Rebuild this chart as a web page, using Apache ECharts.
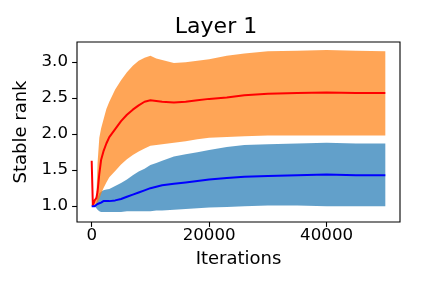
<!DOCTYPE html>
<html><head><meta charset="utf-8">
<script src="https://cdn.jsdelivr.net/npm/echarts@6/dist/echarts.min.js"></script>
<style>html,body{margin:0;padding:0;background:#fff}#c{width:432px;height:288px}</style>
</head><body><div id="c"></div>
<script>
const iterations = [0, 200, 500, 800, 1000, 1300, 1600, 2000, 2500, 3000, 4000, 5000, 6000, 7000, 8000, 9000, 10000, 11000, 12000, 14000, 16000, 18000, 20000, 23000, 26000, 30000, 35000, 40000, 45000, 50000];
const redMean = [1.63, 1.01, 1.08, 1.11, 1.20, 1.45, 1.64, 1.76, 1.87, 1.96, 2.07, 2.18, 2.27, 2.34, 2.40, 2.45, 2.47, 2.46, 2.45, 2.44, 2.45, 2.47, 2.49, 2.51, 2.54, 2.56, 2.57, 2.58, 2.57, 2.57];
const blueMean = [1.0, 1.0, 1.0, 1.01, 1.03, 1.04, 1.05, 1.07, 1.07, 1.07, 1.08, 1.10, 1.13, 1.16, 1.19, 1.22, 1.25, 1.27, 1.29, 1.31, 1.33, 1.35, 1.37, 1.39, 1.41, 1.42, 1.43, 1.44, 1.43, 1.43];
const orangeUpper = [1.02, 1.05, 1.10, 1.14, 1.60, 1.95, 2.08, 2.20, 2.35, 2.45, 2.62, 2.75, 2.86, 2.95, 3.02, 3.06, 3.09, 3.05, 3.03, 2.99, 3.00, 3.02, 3.04, 3.09, 3.12, 3.15, 3.16, 3.17, 3.16, 3.15];
const orangeLower = [1.0, 1.0, 1.02, 1.04, 1.05, 1.10, 1.17, 1.25, 1.33, 1.40, 1.49, 1.58, 1.65, 1.71, 1.76, 1.80, 1.84, 1.85, 1.86, 1.88, 1.90, 1.93, 1.95, 1.96, 1.97, 1.98, 1.98, 1.98, 1.98, 1.98];
const blueUpper = [1.0, 1.0, 1.0, 1.05, 1.12, 1.18, 1.20, 1.22, 1.23, 1.24, 1.28, 1.32, 1.37, 1.43, 1.48, 1.52, 1.57, 1.60, 1.63, 1.69, 1.72, 1.75, 1.78, 1.82, 1.85, 1.86, 1.87, 1.88, 1.87, 1.87];
const blueLower = [1.0, 1.0, 1.0, 0.97, 0.95, 0.93, 0.92, 0.92, 0.92, 0.92, 0.92, 0.92, 0.93, 0.93, 0.93, 0.93, 0.93, 0.94, 0.94, 0.95, 0.96, 0.97, 0.98, 0.99, 1.0, 1.01, 1.01, 1.0, 1.0, 1.0];
const xTicks = [0, 20000, 40000];
const yTicks = [1.0, 1.5, 2.0, 2.5, 3.0];

const pairs = arr => iterations.map((x, i) => [x, arr[i]]);
const font = 'DejaVu Sans';
const chart = echarts.init(document.getElementById('c'), null, {renderer: 'canvas'});

function band(name, upper, lower, fill) {
  return {
    type: 'custom', name: name, silent: true,
    data: pairs(upper),
    renderItem: function (params, api) {
      if (params.dataIndex !== 0) return null;
      const pts = [];
      for (let i = 0; i < iterations.length; i++) pts.push(api.coord([iterations[i], upper[i]]));
      for (let i = iterations.length - 1; i >= 0; i--) pts.push(api.coord([iterations[i], lower[i]]));
      return {type: 'polygon', shape: {points: pts}, style: {fill: fill, stroke: null}};
    }
  };
}

chart.setOption({
  animation: false,
  backgroundColor: '#ffffff',
  title: {text: 'Layer 1', left: 'center', top: 16, padding: 0,
    textStyle: {fontFamily: font, fontSize: 22, fontWeight: 'normal', color: '#000'}},
  grid: {left: 77, right: 32, top: 42, bottom: 66, show: true, borderColor: '#000', borderWidth: 1.1, backgroundColor: 'transparent'},
  xAxis: {type: 'value', min: -2500, max: 52500,
    name: 'Iterations', nameLocation: 'middle', nameGap: 28,
    nameTextStyle: {fontFamily: font, fontSize: 18, color: '#000'},
    axisLine: {show: false, onZero: false}, splitLine: {show: false},
    axisTick: {show: true, customValues: xTicks, length: 4.9, lineStyle: {color: '#000', width: 1.1}},
    axisLabel: {customValues: xTicks, margin: 5, fontFamily: font, fontSize: 16.67, color: '#000', formatter: v => String(v)}},
  yAxis: {type: 'value', min: 0.78, max: 3.28,
    name: 'Stable rank', nameLocation: 'middle', nameGap: 36,
    nameTextStyle: {fontFamily: font, fontSize: 18, color: '#000'},
    axisLine: {show: false, onZero: false}, splitLine: {show: false},
    axisTick: {show: true, customValues: yTicks, length: 4.9, lineStyle: {color: '#000', width: 1.1}},
    axisLabel: {customValues: yTicks, margin: 9, fontFamily: font, fontSize: 16.67, color: '#000', formatter: v => v.toFixed(1)}},
  series: [
    band('blueBand', blueUpper, blueLower, 'rgba(31,119,180,0.7)'),
    band('orangeBand', orangeUpper, orangeLower, 'rgba(255,127,14,0.7)'),
    {type: 'line', name: 'red', symbol: 'none', data: pairs(redMean), lineStyle: {color: '#ff0000', width: 2}},
    {type: 'line', name: 'blue', symbol: 'none', data: pairs(blueMean), lineStyle: {color: '#0000ff', width: 2}}
  ]
});
</script></body></html>
